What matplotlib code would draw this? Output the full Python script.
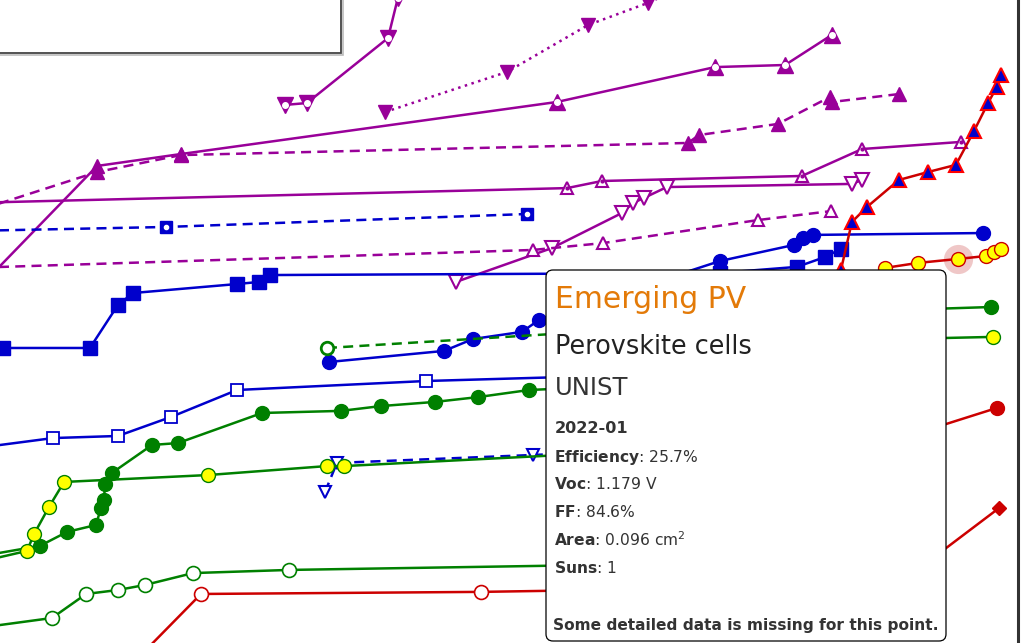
import matplotlib
matplotlib.use("Agg")
import matplotlib.pyplot as plt
from matplotlib.patches import FancyBboxPatch, Rectangle
from matplotlib.transforms import IdentityTransform

PURPLE = '#990099'
BLUE = '#0000cc'
GREEN = '#008000'
RED = '#cc0000'
YELLOW = '#ffff00'

# ---- multijunction (purple) ----
p1_year = [1997.36, 1998.16, 2001.11, 2001.47, 2001.91]
p1_eff = [33.08, 33.17, 36.28, 38.20, 40.97]

p2_year = [2001.00, 2005.44, 2008.38, 2010.56, 2012.45]
p2_eff = [32.74, 34.66, 36.90, 37.96, 39.06]

p3_year = [1985.91, 1990.53, 1993.58, 2007.25, 2013.00, 2015.55, 2017.25]
p3_eff = [23.89, 30.16, 30.73, 33.22, 34.89, 34.99, 36.43]

p4_year = [1985.91, 1990.53, 1993.58, 2012.02, 2012.42, 2015.29, 2017.18, 2017.25, 2019.69]
p4_eff = [27.91, 29.87, 30.68, 31.26, 31.64, 32.17, 33.46, 33.22, 33.60]

p5_year = [1985.91, 2007.62, 2008.89, 2016.16, 2018.35, 2021.95]
p5_eff = [28.39, 29.10, 29.44, 29.68, 30.97, 31.31]

p6_year = [2003.58, 2007.07, 2009.62, 2010.02, 2010.42, 2011.25, 2017.98, 2018.35]
p6_eff = [24.61, 26.23, 27.91, 28.39, 28.63, 29.15, 29.30, 29.49]

p7_year = [1985.91, 2006.38, 2008.93, 2014.56, 2017.22]
p7_eff = [25.28, 26.14, 26.47, 27.57, 28.00]

# ---- crystalline Si (blue) ----
b1_year = [1985.91, 1993.04, 2006.16]
b1_eff = [27.05, 27.24, 27.86]

b2_year = [1985.55, 1987.11, 1990.27, 1991.29, 1991.84, 1995.62, 1996.42, 1996.82,
           2013.18, 2015.98, 2017.00, 2017.58]
b2_eff = [21.35, 21.45, 21.45, 23.51, 24.08, 24.51, 24.61, 24.94,
          25.04, 25.33, 25.80, 26.19]

b3_year = [1998.96, 2003.15, 2004.20, 2005.98, 2006.60, 2013.18, 2015.87, 2016.20, 2016.56, 2022.75]
b3_eff = [20.78, 21.31, 21.88, 22.22, 22.79, 25.61, 26.38, 26.71, 26.86, 26.95]

b4_year = [1985.91, 1988.93, 1991.29, 1993.22, 1995.62, 2002.49, 2008.82]
b4_eff = [16.62, 17.14, 17.24, 18.15, 19.44, 19.87, 20.11]

b5_year = [1998.82, 1999.25, 2006.38, 2008.82]
b5_eff = [14.56, 15.95, 16.33, 16.47]

# ---- thin film (green) ----
g1_year = [1998.89, 2008.82]
g1_eff = [21.45, 22.26]

g2_year = [1985.91, 1988.45, 1989.44, 1990.49, 1990.67, 1990.78, 1990.82, 1991.07, 1992.53,
           1993.47, 1996.53, 1999.40, 2000.85, 2002.82, 2004.38, 2006.24, 2009.55, 2019.73, 2023.04]
g2_eff = [11.40, 11.98, 12.65, 12.98, 13.79, 14.18, 14.94, 15.47, 16.81,
          16.90, 18.34, 18.44, 18.67, 18.87, 19.10, 19.44, 19.63, 23.27, 23.41]

g3_year = [1985.91, 1987.98, 1988.24, 1988.78, 1989.33, 1994.56, 1998.89, 1999.51, 2009.55,
           2019.73, 2023.11]
g3_eff = [11.11, 11.74, 12.55, 13.84, 15.04, 15.37, 15.80, 15.80, 16.47, 21.88, 21.98]

g4_year = [1985.91, 1988.89, 1990.13, 1991.29, 1992.27, 1994.02, 1997.51, 2008.82]
g4_eff = [8.00, 8.53, 9.68, 9.87, 10.11, 10.68, 10.83, 11.07]

# ---- emerging PV (red) ----
r1_year = [1992.09, 1994.31, 2004.49, 2008.82]
r1_eff = [6.71, 9.68, 9.78, 9.87]

r2_year = [2019.00, 2023.25]
r2_eff = [16.81, 18.58]

r3_year = [2019.73, 2023.33]
r3_eff = [10.21, 13.79]

r4_year = [2017.55, 2019.18, 2020.38, 2021.84, 2022.85, 2023.15, 2023.40]
r4_eff = [24.22, 25.28, 25.52, 25.71, 25.85, 26.04, 26.19]

r5_year = [2017.36, 2017.58, 2017.98, 2018.53, 2019.69, 2020.75, 2021.76, 2022.42, 2022.93, 2023.25, 2023.40]
r5_eff = [21.83, 25.18, 27.48, 28.20, 29.49, 29.87, 30.21, 31.83, 33.17, 33.94, 34.51]

hover_year = 2021.84
hover_eff = 25.71

tip_lines = [
    (r"$\mathbf{Efficiency}$: 25.7%", 462),
    (r"$\mathbf{Voc}$: 1.179 V", 489),
    (r"$\mathbf{FF}$: 84.6%", 517),
    (r"$\mathbf{Area}$: 0.096 cm$^2$", 546),
    (r"$\mathbf{Suns}$: 1", 573),
]

W, H = 1024, 643
fig = plt.figure(figsize=(W / 100, H / 100), dpi=100)
ax = fig.add_axes([0, 0, 1018 / W, 1])
ax.set_xlim(1987.0, 2024.02)
ax.set_ylim(7.334, 38.1)
ax.set_xticks([])
ax.set_yticks([])
for s in ['top', 'left', 'bottom']:
    ax.spines[s].set_visible(False)
ax.spines['right'].set_linewidth(2.2)
ax.spines['right'].set_color('#333333')

LW = 1.8
DASH = (0, (4, 2.5))
DOT = (0, (1, 1.8))


def series(x, y, color, ls='-', **mk):
    ax.plot(x, y, color=color, lw=LW, ls=ls, **mk)


# purple
series(p1_year, p1_eff, PURPLE, marker='v', ms=11, mec=PURPLE)
ax.plot(p1_year, p1_eff, ls='none', marker='o', ms=4, color='white')
series(p2_year, p2_eff, PURPLE, DOT, marker='v', ms=10, mec=PURPLE)
series(p3_year, p3_eff, PURPLE)
ax.plot(p3_year[:3], p3_eff[:3], ls='none', marker='^', ms=10, color=PURPLE)
ax.plot(p3_year[3:], p3_eff[3:], ls='none', marker='^', ms=11, color=PURPLE)
ax.plot(p3_year[3:], p3_eff[3:], ls='none', marker='o', ms=4, color='white')
series(p4_year, p4_eff, PURPLE, DASH, marker='^', ms=10, mec=PURPLE)
series(p5_year, p5_eff, PURPLE, marker='^', ms=9, mfc='white', mec=PURPLE, mew=1.5)
ax.plot(p5_year, p5_eff, ls='none', marker='o', ms=2, color=PURPLE)
series(p6_year, p6_eff, PURPLE, marker='v', ms=10, mfc='white', mec=PURPLE, mew=1.5)
series(p7_year, p7_eff, PURPLE, DASH, marker='^', ms=9, mfc='white', mec=PURPLE, mew=1.5)

# blue
series(b1_year, b1_eff, BLUE, DASH, marker='s', ms=9, mec=BLUE)
ax.plot(b1_year, b1_eff, ls='none', marker='o', ms=3, color='white')
series(b2_year, b2_eff, BLUE, marker='s', ms=10, mec=BLUE)
series(b3_year, b3_eff, BLUE, marker='o', ms=10, mec=BLUE)
series(b4_year, b4_eff, BLUE, marker='s', ms=9, mfc='white', mec=BLUE, mew=1.3)
series(b5_year, b5_eff, BLUE, DASH, marker='v', ms=8, mfc='white', mec=BLUE, mew=1.5)

# green
series(g1_year, g1_eff, GREEN, DASH, marker='o', ms=9, mfc='white', mec=GREEN, mew=2)
series(g2_year, g2_eff, GREEN, marker='o', ms=10, mec=GREEN)
series(g3_year, g3_eff, GREEN, marker='o', ms=10, mfc=YELLOW, mec=GREEN, mew=1)
series(g4_year, g4_eff, GREEN, marker='o', ms=10, mfc='white', mec=GREEN, mew=1.2)

# red
series(r1_year, r1_eff, RED, marker='o', ms=10, mfc='white', mec=RED, mew=1.2)
series(r2_year, r2_eff, RED, marker='o', ms=10, mec=RED)
series(r3_year, r3_eff, RED, marker='D', ms=7, mec=RED)
ax.plot([hover_year], [hover_eff], ls='none', marker='o', ms=21,
        color=(0.85, 0.45, 0.45, 0.4), mew=0)
series(r4_year, r4_eff, RED, marker='o', ms=10, mfc=YELLOW, mec=RED, mew=1)
series(r5_year, r5_eff, RED, marker='^', ms=10, mfc=BLUE, mec='#ff0000', mew=1.5)

# legend frame (cut off at top left)
px = IdentityTransform()
fig.add_artist(Rectangle((-10, H - 55), 353, 70, transform=px, fill=False,
                         edgecolor='#bbbbbb', lw=1.2, zorder=5))
fig.add_artist(Rectangle((-10, H - 53), 351, 70, transform=px, facecolor='white',
                         edgecolor='#444444', lw=1.3, zorder=5))

# tooltip
fig.add_artist(FancyBboxPatch((546, H - 641), 400, 371, transform=px,
                              boxstyle='round,pad=0,rounding_size=7',
                              facecolor='white', edgecolor='black', lw=0.9, zorder=6))
tx = 555
fig.text(tx, H - 308, 'Emerging PV', transform=px, fontsize=21.5, color='#e37a08',
         va='baseline', zorder=7)
fig.text(tx, H - 354, 'Perovskite cells', transform=px, fontsize=18.4, color='#222222',
         va='baseline', zorder=7)
fig.text(tx, H - 395, 'UNIST', transform=px, fontsize=17.5, color='#333333',
         va='baseline', zorder=7)
fig.text(tx, H - 433, '2022-01', transform=px, fontsize=11.6, fontweight='bold',
         color='#333333', va='baseline', zorder=7)
for s, yb in tip_lines:
    fig.text(tx - 1, H - yb, s, transform=px, fontsize=11.2, color='#333333',
             va='baseline', zorder=7)
fig.text(tx - 2, H - 630, 'Some detailed data is missing for this point.', transform=px,
         fontsize=11.1, fontweight='bold', color='#333333', va='baseline', zorder=7)

fig.savefig('out.png', dpi=100)
